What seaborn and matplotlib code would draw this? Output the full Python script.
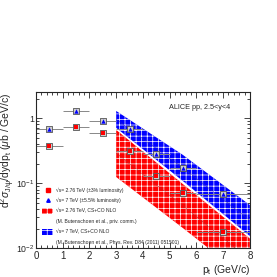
import numpy as np
import pandas as pd
import seaborn as sns
import matplotlib
matplotlib.use("Agg")
import matplotlib.pyplot as plt
from matplotlib.lines import Line2D
from matplotlib.patches import Patch
from matplotlib.ticker import MultipleLocator, LogLocator, NullFormatter, FixedLocator, FixedFormatter

# ---- data ----
pt = [0.5, 1.5, 2.5, 3.5, 4.5, 5.5, 7.0]
pt_err = [0.5, 0.5, 0.5, 0.5, 0.5, 0.5, 1.0]
sigma_276 = [0.375, 0.72, 0.59, 0.31, 0.13, 0.071, 0.018]
sigma_7 = [0.68, 1.30, 0.89, 0.67, 0.28, 0.174, 0.068]

band_pt = [3.0, 5.5, 8.0]
nlo7_hi = [1.29, 0.272, 0.0464]
nlo7_lo = [0.71, 0.108, 0.0155]
nlo7_mid = [0.96, 0.172, 0.027]
nlo276_hi = [0.66, 0.097, 0.0142]
nlo276_lo = [0.125, 0.0205, 0.0032]
nlo276_mid = [0.29, 0.045, 0.0067]

labels = ["\u221as= 2.76 TeV (\u00b13% luminosity)",
          "\u221as= 7 TeV (\u00b15.5% luminosity)",
          "\u221as= 2.76 TeV, CS+CO NLO",
          "(M. Butenschoen et al., priv. comm.)",
          "\u221as= 7 TeV, CS+CO NLO",
          "(M. Butenschoen et al., Phys. Rev. D84 (2011) 051501)"]

sns.set_style("ticks")
plt.rcParams['font.family'] = ['Liberation Sans', 'DejaVu Sans']
plt.rcParams['hatch.linewidth'] = 0.5
plt.rcParams['mathtext.fontset'] = 'custom'
plt.rcParams['mathtext.rm'] = 'Liberation Sans'
plt.rcParams['mathtext.it'] = 'Liberation Sans:italic'

fig = plt.figure(figsize=(2.77, 2.77), dpi=100)
ax = fig.add_axes([0.130, 0.103, 0.772, 0.564])

RED = "#ff0000"
BLUE = "#0000ff"

# bands
ax.fill_between(band_pt, nlo7_lo, nlo7_hi, facecolor=BLUE, edgecolor="white",
                hatch="+++", linewidth=0)
ax.fill_between(band_pt, nlo276_lo, nlo276_hi, facecolor=RED, edgecolor="white",
                hatch="+++", linewidth=0)
bdf = pd.DataFrame({"pt": band_pt, "b": nlo7_mid, "r": nlo276_mid})
sns.lineplot(data=bdf, x="pt", y="b", ax=ax, color="#3333aa", lw=0.4, ls="--")
sns.lineplot(data=bdf, x="pt", y="r", ax=ax, color="#aa3333", lw=0.4, ls="--")

# data points
ax.errorbar(pt, sigma_276, xerr=pt_err, fmt="none", ecolor="#888888", elinewidth=0.7)
ax.errorbar(pt, sigma_7, xerr=pt_err, fmt="none", ecolor="#888888", elinewidth=0.7)
df = pd.DataFrame({"pt": pt + pt, "s": sigma_276 + sigma_7})
sns.scatterplot(data=df, x="pt", y="s", ax=ax, marker="s", s=22,
                facecolor="#cccccc", edgecolor="#555555", linewidth=0.6, zorder=3)
d1 = pd.DataFrame({"pt": pt, "s": sigma_276})
d2 = pd.DataFrame({"pt": pt, "s": sigma_7})
sns.scatterplot(data=d1, x="pt", y="s", ax=ax, marker="s", s=9, color=RED,
                linewidth=0, zorder=4)
sns.scatterplot(data=d2, x="pt", y="s", ax=ax, marker="^", s=10, color=BLUE,
                linewidth=0, zorder=4)

ax.set_yscale("log")
ax.set_xlim(0, 8)
ax.set_ylim(0.01, 2.5)

ax.xaxis.set_major_locator(MultipleLocator(1))
ax.xaxis.set_minor_locator(MultipleLocator(0.2))
ax.yaxis.set_major_locator(FixedLocator([0.01, 0.1, 1]))
ax.yaxis.set_major_formatter(FixedFormatter([r"$10^{-2}$", r"$10^{-1}$", "1"]))
ax.yaxis.set_minor_locator(LogLocator(base=10, subs=np.arange(2, 10)))
ax.yaxis.set_minor_formatter(NullFormatter())
ax.tick_params(which="both", direction="in", top=True, right=True, width=0.6,
               labelsize=7, pad=2)
ax.tick_params(axis="y", labelsize=6.3, pad=1.2)
ax.tick_params(which="major", length=4)
ax.tick_params(which="minor", length=2)
for sp in ax.spines.values():
    sp.set_linewidth(0.8)

ax.set_xlabel(r"p$_{\rm t}$ (GeV/c)", fontsize=7.5, loc="right", labelpad=1)
ax.set_ylabel(r"d$^{2}\sigma_{\rm J/\psi}$/dydp$_{\rm t}$ ($\mu$b / GeV/c)",
              fontsize=7.5, loc="top")
ax.yaxis.set_label_coords(-0.09, 1.0)

ax.text(0.91, 0.905, "ALICE pp, 2.5<y<4", transform=ax.transAxes, fontsize=5.2,
        ha="right", va="center")

handles = [Line2D([], [], marker="s", ls="none", color=RED, markersize=2.5),
           Line2D([], [], marker="^", ls="none", color=BLUE, markersize=2.5),
           Patch(facecolor=RED, edgecolor="white", hatch="+++", lw=0),
           Patch(facecolor="none", edgecolor="none"),
           Patch(facecolor=BLUE, edgecolor="white", hatch="+++", lw=0),
           Patch(facecolor="none", edgecolor="none")]
leg = ax.legend(handles, labels, loc="upper left", bbox_to_anchor=(0.02, 0.405),
                fontsize=3.6, frameon=False, labelspacing=0.85, handlelength=2.2,
                handleheight=1.5, handletextpad=0.5, borderaxespad=0)

fig.savefig("out.png", dpi=100)
